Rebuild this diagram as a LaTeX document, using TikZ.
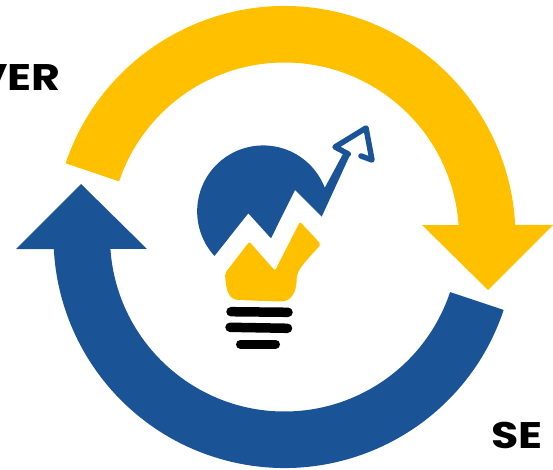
\documentclass[tikz,border=0pt]{standalone}
\usepackage{fontspec}
\newfontfamily\labelfont{Poppins}
\definecolor{ringblue}{HTML}{1A5496}
\definecolor{ringyellow}{HTML}{FFC000}
\tikzset{
  caption/.style={font=\labelfont\bfseries\fontsize{37}{37}\selectfont,inner sep=0pt,text=black,xscale=1.2},
  bar/.style={line width=9.5pt,line cap=round,black}
}
\begin{document}
\begin{tikzpicture}[x=1pt,y=1pt]
      \useasboundingbox (0,0) rectangle (553,469);
      \begin{scope}[shift={(284.5,232)}]
        \fill[ringyellow] (161.4:231) arc[start angle=161.4,end angle=3,radius=231]
          -- (268.5,12) -- (203.5,-53) -- (137.5,12) -- (3.9:174.5)
          arc[start angle=3.9,end angle=161.4,radius=174.5] -- cycle;
        \fill[ringblue] (-18.4:231) arc[start angle=-18.4,end angle=-177,radius=231]
          -- (-268.5,-12) -- (-203.5,53) -- (-137.5,-12) -- (-176.1:174.5)
          arc[start angle=-176.1,end angle=-18.4,radius=174.5] -- cycle;
      \end{scope}
      \fill[ringblue] (214.5,213) arc[start angle=222.5,end angle=21,radius=66]
        -- (343.3,315.7) -- (350,314) -- (321.7,252.3) -- (295,279)
        -- (271,230.7) -- (248.3,255.7) -- cycle;
      \draw[ringblue,line width=5.5pt,line join=round,line cap=round]
        (348.3,315) -- (335,322) -- (366,341) -- (372,309) -- (361,313);
      \fill[ringyellow,rounded corners=2pt] (249.3,227.3) -- (275,198.3) -- (300,247.3) -- (321,224.7)
        .. controls (308,210) and (297,200) .. (296.7,189)
        .. controls (296,178) and (292,168) .. (280,167.5)
        -- (238,169)
        .. controls (228,171) and (226,180) .. (225,195.7) -- cycle;
      \draw[bar] (231,157.3) -- (288,156.7);
      \draw[bar] (230,141.7) -- (287.5,140.7);
      \draw[bar,line width=9pt] (240.5,124.7) -- (275.5,124.7);
      \node[caption,anchor=base east] (over) at (61,378) {VER};
      \node[caption,anchor=base east] (se) at (543,21) {SE};
    \end{tikzpicture}
\end{document}
